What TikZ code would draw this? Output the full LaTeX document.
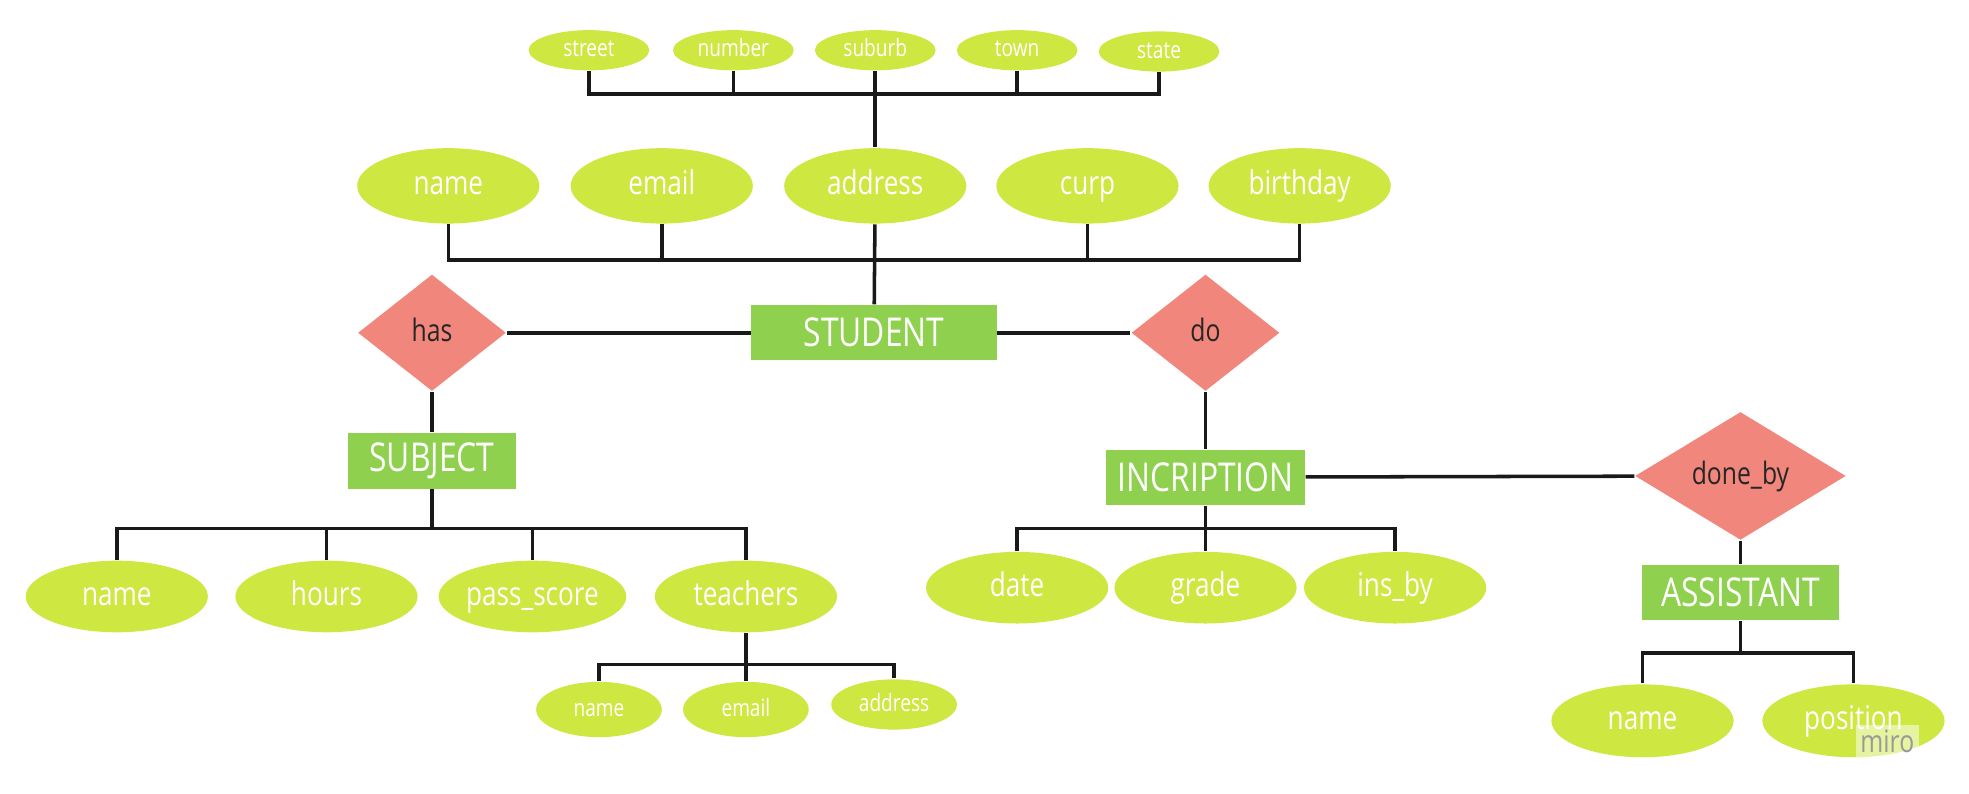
\documentclass[tikz,border=0pt]{standalone}
\usepackage{fontspec}
\setmainfont{Open Sans}[FakeStretch=0.8]
\usetikzlibrary{shapes.geometric}
\usetikzlibrary{positioning}
\definecolor{attrgreen}{RGB}{206,231,65}
\definecolor{entgreen}{RGB}{143,209,79}
\definecolor{relred}{RGB}{241,134,124}
\tikzset{
    attr/.style={ellipse, fill=attrgreen, text=white, inner sep=0pt, text height=5.8pt, text depth=1.7pt, minimum width=1.45cm, minimum height=0.6cm, font=\fontsize{7.4}{8}\selectfont},
    subattr/.style={attr, text height=4.2pt, text depth=1.2pt, minimum width=0.96cm, minimum height=0.32cm, font=\fontsize{5.4}{6}\selectfont},
    tattr/.style={subattr, minimum width=1.0cm, minimum height=0.44cm},
    entity/.style={rectangle, fill=entgreen, text=white, inner sep=0pt, minimum height=0.44cm, font=\fontsize{9}{10}\selectfont},
    rel/.style={diamond, fill=relred, text=black!85, inner sep=0pt, text height=5.4pt, text depth=1.6pt, minimum width=1.18cm, minimum height=0.93cm, font=\fontsize{7}{8}\selectfont},
    link/.style={line width=0.8pt, black!90}
}

\begin{document}
\begin{tikzpicture}[x=0.01cm, y=-0.01cm]
    \useasboundingbox (0,0) rectangle (1568,632);

    % address parts
    \node[subattr] (street) at (469,40) {street};
    \node[subattr] (number) at (584,40) {number};
    \node[subattr] (suburb) at (697,40) {suburb};
    \node[subattr] (town) at (810,40) {town};
    \node[subattr] (state) at (923,41) {state};

    % student
    \node[attr] (sname) at (357,148) {name};
    \node[attr] (semail) at (527,148) {email};
    \node[attr] (address) at (697,148) {address};
    \node[attr] (curp) at (866,148) {curp};
    \node[attr] (birthday) at (1035,148) {birthday};
    \node[entity, minimum width=1.95cm] (student) at (696,265) {STUDENT};
    \node[rel] (has) at (344,265) {has};
    \node[rel] (do) at (960,265) {do};

    % subject
    \node[entity, minimum width=1.34cm] (subject) at (344,367) {SUBJECT};
    \node[attr, minimum height=0.57cm] (subjname) at (93,475) {name};
    \node[attr, minimum height=0.57cm] (hours) at (260,475) {hours};
    \node[attr, minimum height=0.57cm] (passscore) at (424,475) {pass\_score};
    \node[attr, minimum height=0.57cm] (teachers) at (594,475) {teachers};
    \node[tattr] (tname) at (477,565) {name};
    \node[tattr] (temail) at (594,565) {email};
    \node[tattr, minimum height=0.40cm] (taddress) at (712,561) {address};

    % incription
    \node[entity, minimum width=1.58cm] (incription) at (960,380) {INCRIPTION};
    \node[attr, minimum height=0.57cm] (date) at (810,468) {date};
    \node[attr, minimum height=0.57cm] (grade) at (960,468) {grade};
    \node[attr, minimum height=0.57cm] (insby) at (1111,468) {ins\_by};
    \node[rel, minimum width=1.68cm] (doneby) at (1386,379) {done\_by};

    % assistant
    \node[entity, minimum width=1.57cm] (assistant) at (1386,472) {ASSISTANT};
    \node[attr, minimum height=0.58cm] (aname) at (1308,574) {name};
    \node[attr, minimum height=0.58cm] (position) at (1476,574) {position};

    \node[fill=white, fill opacity=0.5, text opacity=1, text=black!40, inner sep=1pt, font=\fontsize{7}{8}\selectfont] (miro) at (1503,590) {miro};

    % bars
    \coordinate (addrbar) at (697,75);
    \coordinate (studbar) at (697,207);
    \coordinate (subjbar) at (344,421);
    \coordinate (teachbar) at (594,529);
    \coordinate (incbar) at (960,421);
    \coordinate (assbar) at (1386,520);

    \foreach \a in {street,number,town,state}
        \draw[link] (\a.south) |- (addrbar);
    \draw[link] (suburb) -- (address);
    \foreach \a in {sname,semail,curp,birthday}
        \draw[link] (\a.south) |- (studbar);
    \draw[link] (address) -- (student);

    \draw[link] (has) -- (student);
    \draw[link] (student) -- (do);
    \draw[link] (has) -- (subject);
    \draw[link] (do) -- (incription);
    \draw[link] (incription) -- (doneby);
    \draw[link] (doneby) -- (assistant);

    \foreach \a in {subjname,hours,passscore,teachers}
        \draw[link] (\a.north) |- (subjbar);
    \draw[link] (subject) -- (subjbar);
    \foreach \a in {tname,taddress}
        \draw[link] (\a.north) |- (teachbar);
    \draw[link] (teachers) -- (temail);

    \foreach \a in {date,insby}
        \draw[link] (\a.north) |- (incbar);
    \draw[link] (incription) -- (grade);
    \foreach \a in {aname,position}
        \draw[link] (\a.north) |- (assbar);
    \draw[link] (assistant) -- (assbar);
\end{tikzpicture}
\end{document}
